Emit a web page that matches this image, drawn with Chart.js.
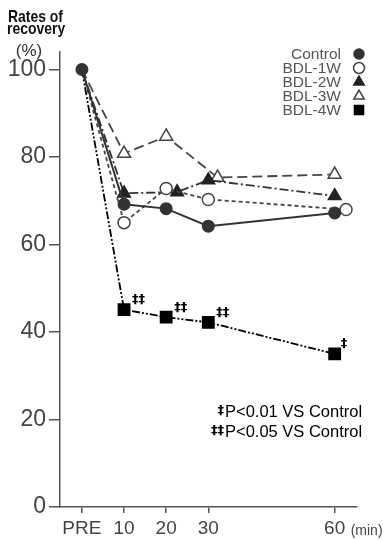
<!DOCTYPE html>
<html>
<head>
<meta charset="utf-8">
<script src="https://cdn.jsdelivr.net/npm/chart.js@4.4.1/dist/chart.umd.min.js"></script>
<style>
    html, body { margin: 0; padding: 0; background: #fff; }
    canvas { display: block; }
</style>
</head>
<body>
<canvas id="recoveryChart" width="388" height="540"></canvas>
<script>
/* ============================================================
   Données
   ============================================================ */
const timeTicks = [0, 10, 20, 30, 60];
const valueTicks = [0, 20, 40, 60, 80, 100];
const seriesNames = ['Control', 'BDL-1W', 'BDL-2W', 'BDL-3W', 'BDL-4W'];

// x slightly shifted in the figure where markers overlap
const controlX = [0, 10, 20, 30, 60];
const controlY = [100, 69.2, 68.2, 64.2, 67.2];
const bdl1X = [0, 10, 20, 30, 62.7];
const bdl1Y = [100, 65.0, 72.8, 70.3, 68.0];
const bdl2X = [0, 10, 22.6, 30, 60];
const bdl2Y = [100, 71.7, 72.0, 74.7, 71.1];
const bdl3X = [0, 10, 20, 32.2, 60];
const bdl3Y = [100, 80.8, 84.7, 75.3, 76.0];
const bdl4X = [0, 10, 20, 30, 60];
const bdl4Y = [100, 45.1, 43.4, 42.2, 35.0];

const bdl4Marks = ['', '‡‡', '‡‡', '‡‡', '‡'];
const footnotes = [['‡', 'P<0.01 VS Control'], ['‡‡', 'P<0.05 VS Control']];

const toPoints = (xs, ys) => xs.map((x, i) => ({ x: x, y: ys[i] }));


/* ============================================================
   Plugins : titre, légende, annotations
   ============================================================ */
const textPlugin = {
    id: 'textPlugin',
    afterDraw(chart) {
        const ctx = chart.ctx;
        ctx.save();

        // titre axe y
        ctx.fillStyle = '#111';
        ctx.textBaseline = 'alphabetic';
        ctx.textAlign = 'left';
        ctx.font = 'bold 17px "Liberation Sans", Arial, sans-serif';
        ctx.save();
        ctx.scale(0.82, 1);
        ctx.fillText('Rates of', 8 / 0.82, 22);
        ctx.fillText('recovery', 7 / 0.82, 33.5);
        ctx.restore();
        ctx.fillStyle = '#333';
        ctx.font = '17px "Liberation Sans", Arial, sans-serif';
        ctx.textAlign = 'center';
        ctx.fillText('(%)', 29, 56);

        // (min)
        const xScale = chart.scales.x;
        ctx.font = '14px "Liberation Sans", Arial, sans-serif';
        ctx.textAlign = 'left';
        ctx.fillStyle = '#444';
        ctx.fillText('(min)', xScale.getPixelForValue(60) + 16, 535);

        // légende
        ctx.font = '15.5px "Liberation Sans", Arial, sans-serif';
        chart.data.datasets.forEach((ds, i) => {
            const y = 54 + 14 * i;
            ctx.fillStyle = '#555';
            ctx.textAlign = 'right';
            ctx.textBaseline = 'middle';
            ctx.fillText(ds.label, 341, y + 1);
            ctx.fillStyle = ds.pointBackgroundColor;
            ctx.strokeStyle = ds.pointBorderColor;
            ctx.lineWidth = 1.5;
            Chart.helpers.drawPoint(ctx, {
                pointStyle: ds.pointStyle,
                radius: ds.legendRadius,
                rotation: 0,
                borderWidth: 1.5
            }, 359, y);
        });

        // marques de significativité
        const meta = chart.getDatasetMeta(4);
        ctx.fillStyle = '#000';
        ctx.font = 'bold 13px "DejaVu Sans", sans-serif';
        ctx.textAlign = 'left';
        ctx.textBaseline = 'middle';
        meta.data.forEach((pt, i) => {
            if (!bdl4Marks[i]) return;
            const dx = bdl4Marks[i].length > 1 ? 8 : 6;
            ctx.fillText(bdl4Marks[i], pt.x + dx, pt.y - 10);
        });

        // notes
        footnotes.forEach((f, i) => {
            const y = 411 + 20 * i;
            ctx.font = 'bold 13px "DejaVu Sans", sans-serif';
            ctx.textAlign = 'right';
            ctx.fillText(f[0], 224, y);
            ctx.font = '16.5px "Liberation Sans", Arial, sans-serif';
            ctx.textAlign = 'left';
            ctx.fillText(f[1], 225, y + 1);
        });

        ctx.restore();
    }
};


/* ============================================================
   Graphique Chart.js
   ============================================================ */
const ctx = document.getElementById('recoveryChart').getContext('2d');
new Chart(ctx, {
    type: 'line',
    data: {
        datasets: [
            {
                label: seriesNames[0],
                data: toPoints(controlX, controlY),
                borderColor: '#333',
                borderWidth: 2,
                pointStyle: 'circle',
                pointRadius: 5.5,
                legendRadius: 5,
                pointBackgroundColor: '#333',
                pointBorderColor: '#333'
            },
            {
                label: seriesNames[1],
                data: toPoints(bdl1X, bdl1Y),
                borderColor: '#444',
                borderWidth: 1.8,
                borderDash: [4, 3],
                pointStyle: 'circle',
                pointRadius: [0, 6, 6, 6, 6],
                legendRadius: 5.5,
                pointBackgroundColor: '#fff',
                pointBorderColor: '#444',
                pointBorderWidth: 1.5
            },
            {
                label: seriesNames[2],
                data: toPoints(bdl2X, bdl2Y),
                borderColor: '#333',
                borderWidth: 1.8,
                borderDash: [9, 3, 2, 3],
                pointStyle: 'triangle',
                pointRadius: [0, 7, 7, 7, 7],
                legendRadius: 6,
                pointBackgroundColor: '#222',
                pointBorderColor: '#222'
            },
            {
                label: seriesNames[3],
                data: toPoints(bdl3X, bdl3Y),
                borderColor: '#444',
                borderWidth: 1.8,
                borderDash: [10, 5],
                pointStyle: 'triangle',
                pointRadius: [0, 7.5, 7.5, 7.5, 7.5],
                legendRadius: 6,
                pointBackgroundColor: '#fff',
                pointBorderColor: '#444',
                pointBorderWidth: 1.5
            },
            {
                label: seriesNames[4],
                data: toPoints(bdl4X, bdl4Y),
                borderColor: '#000',
                borderWidth: 1.8,
                borderDash: [8, 2, 2, 2, 2, 2],
                pointStyle: 'rect',
                pointRadius: [0, 7.8, 7.8, 7.8, 7.8],
                legendRadius: 6.4,
                pointBackgroundColor: '#000',
                pointBorderColor: '#000'
            }
        ]
    },
    options: {
        responsive: false,
        animation: false,
        devicePixelRatio: 1,
        layout: { padding: { top: 52, right: 31, left: 0, bottom: 0 } },
        plugins: {
            legend: { display: false },
            tooltip: { enabled: false }
        },
        elements: { line: { tension: 0 } },
        scales: {
            x: {
                type: 'linear',
                min: -5.2,
                max: 65.3,
                afterBuildTicks: scale => { scale.ticks = timeTicks.map(v => ({ value: v })); },
                afterFit: scale => { scale.height = 33; },
                ticks: {
                    autoSkip: false,
                    maxRotation: 0,
                    padding: 4,
                    color: '#444',
                    font: { family: '"Liberation Sans", Arial, sans-serif', size: 19 },
                    callback: v => (v === 0 ? 'PRE' : v)
                },
                grid: { drawOnChartArea: false, tickLength: 6, color: '#555', lineWidth: 1.5 },
                border: { color: '#555', width: 1.5 }
            },
            y: {
                min: 0,
                max: 104,
                afterBuildTicks: scale => { scale.ticks = valueTicks.map(v => ({ value: v })); },
                afterFit: scale => { scale.width = 60; },
                ticks: {
                    padding: 3,
                    color: '#444',
                    font: { family: '"Liberation Sans", Arial, sans-serif', size: 23 }
                },
                grid: { drawOnChartArea: false, tickLength: 11, color: '#555', lineWidth: 1.5 },
                border: { color: '#555', width: 1.5 }
            }
        }
    },
    plugins: [textPlugin]
});
</script>
</body>
</html>
